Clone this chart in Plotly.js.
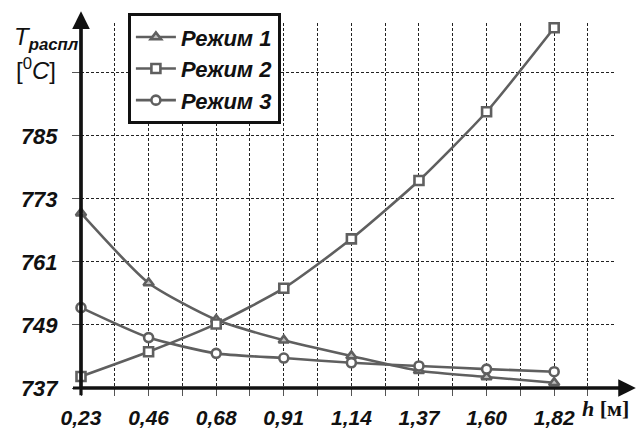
<!DOCTYPE html>
<html>
<head>
<meta charset="utf-8">
<script src="https://cdn.plot.ly/plotly-3.0.1.min.js"></script>
<style>html,body{margin:0;padding:0;background:#fff;}#chart{width:641px;height:432px;}</style>
</head>
<body>
<div id="chart"></div>
<script>
// Data
const hLabels = ['0,23', '0,46', '0,68', '0,91', '1,14', '1,37', '1,60', '1,82'];
const mode1 = [770.3, 757.0, 750.0, 746.1, 743.1, 740.3, 739.1, 738.0];
const mode2 = [739.2, 743.9, 749.2, 756.0, 765.4, 776.5, 789.6, 805.6];
const mode3 = [752.3, 746.6, 743.6, 742.7, 741.8, 741.2, 740.6, 740.1];
const seriesNames = ['Режим 1', 'Режим 2', 'Режим 3'];
const yTickVals = [737, 749, 761, 773, 785, 797];
const yTickText = ['737', '749', '761', '773', '785', ''];

const xIdx = hLabels.map((_, i) => i);
const xGridVals = [];
const xGridText = [];
hLabels.forEach((lab, i) => {
  xGridVals.push(i); xGridText.push(lab);
  xGridVals.push(i + 0.5); xGridText.push('');
});

const gray = '#5f5f5f';
const fontFam = 'Liberation Sans, Arial, sans-serif';

function trace(y, name, symbol, fill) {
  return {
    x: xIdx, y: y, name: name, type: 'scatter', mode: 'lines+markers',
    line: {color: gray, width: 2.6, shape: 'spline', smoothing: 0.6},
    marker: {symbol: symbol, size: 9, color: fill, line: {color: gray, width: 2.6}},
    cliponaxis: false
  };
}

const data = [
  trace(mode1, seriesNames[0], 'triangle-up', '#bdbdbd'),
  trace(mode2, seriesNames[1], 'square', '#ffffff'),
  trace(mode3, seriesNames[2], 'circle', '#ffffff')
];

const layout = {
  width: 641, height: 432,
  margin: {l: 81, r: 27, t: 23, b: 44},
  paper_bgcolor: '#fff', plot_bgcolor: '#fff',
  showlegend: true,
  legend: {
    x: 0.088, y: 1.027, xanchor: 'left', yanchor: 'top',
    bgcolor: '#fff', bordercolor: '#111', borderwidth: 3,
    font: {family: fontFam, size: 22, color: '#111', weight: 'bold', style: 'italic'},
    itemwidth: 40, tracegroupgap: 0
  },
  xaxis: {
    range: [0, 7.885], tickmode: 'array', tickvals: xGridVals, ticktext: xGridText,
    showgrid: true, gridcolor: '#222', gridwidth: 1, griddash: '3px,2px',
    zeroline: false, showline: false,
    ticks: 'outside', ticklen: 7, tickcolor: '#555', tickwidth: 1,
    ticklabelstandoff: 4,
    tickfont: {family: fontFam, size: 21, color: '#111', weight: 'bold', style: 'italic'},
    fixedrange: true
  },
  yaxis: {
    range: [737, 806.5], tickmode: 'array', tickvals: yTickVals, ticktext: yTickText,
    showgrid: true, gridcolor: '#222', gridwidth: 1, griddash: '3px,2px',
    zeroline: false, showline: false,
    ticks: 'outside', ticklen: 8, tickcolor: '#555', tickwidth: 1,
    ticklabelstandoff: 10,
    tickfont: {family: fontFam, size: 22, color: '#111', weight: 'bold', style: 'italic'},
    fixedrange: true
  },
  annotations: [
    // Y axis arrow
    {xref: 'paper', yref: 'paper', x: 0, y: 1.032, ax: 0, ay: 378, axref: 'pixel', ayref: 'pixel',
     text: '', showarrow: true, arrowhead: 2, arrowsize: 1.1, arrowwidth: 3.2, arrowcolor: '#111'},
    // X axis arrow
    {xref: 'paper', yref: 'paper', x: 1.041, y: 0, ax: -556, ay: 0, axref: 'pixel', ayref: 'pixel',
     text: '', showarrow: true, arrowhead: 2, arrowsize: 1.1, arrowwidth: 3.2, arrowcolor: '#111'},
    // Y axis title
    {xref: 'paper', yref: 'paper', x: -0.13, y: 1.005, xanchor: 'left', yanchor: 'top',
     showarrow: false, align: 'left',
     text: '<i>T</i><sub><b><i>распл</i></b></sub>',
     font: {family: fontFam, size: 24, color: '#111'}},
    {xref: 'paper', yref: 'paper', x: -0.125, y: 0.92, xanchor: 'left', yanchor: 'top',
     showarrow: false,
     text: '[<sup>0</sup><i>C</i>]',
     font: {family: fontFam, size: 24, color: '#111'}},
    // X axis title
    {xref: 'paper', yref: 'paper', x: 0.937, y: -0.055, xanchor: 'left', yanchor: 'middle',
     showarrow: false,
     text: '<b><i>h</i></b> <b>[м]</b>',
     font: {family: 'Liberation Serif, Times New Roman, serif', size: 22, color: '#111'}}
  ],
  shapes: [
    {type: 'line', xref: 'paper', yref: 'paper', x0: 0, x1: 0, y0: -0.02, y1: 1.0,
     line: {color: '#111', width: 3.2}},
    {type: 'line', xref: 'paper', yref: 'paper', x0: -0.015, x1: 1.03, y0: 0, y1: 0,
     line: {color: '#111', width: 3.2}}
  ]
};

Plotly.newPlot('chart', data, layout, {displayModeBar: false, staticPlot: true});
</script>
</body>
</html>
